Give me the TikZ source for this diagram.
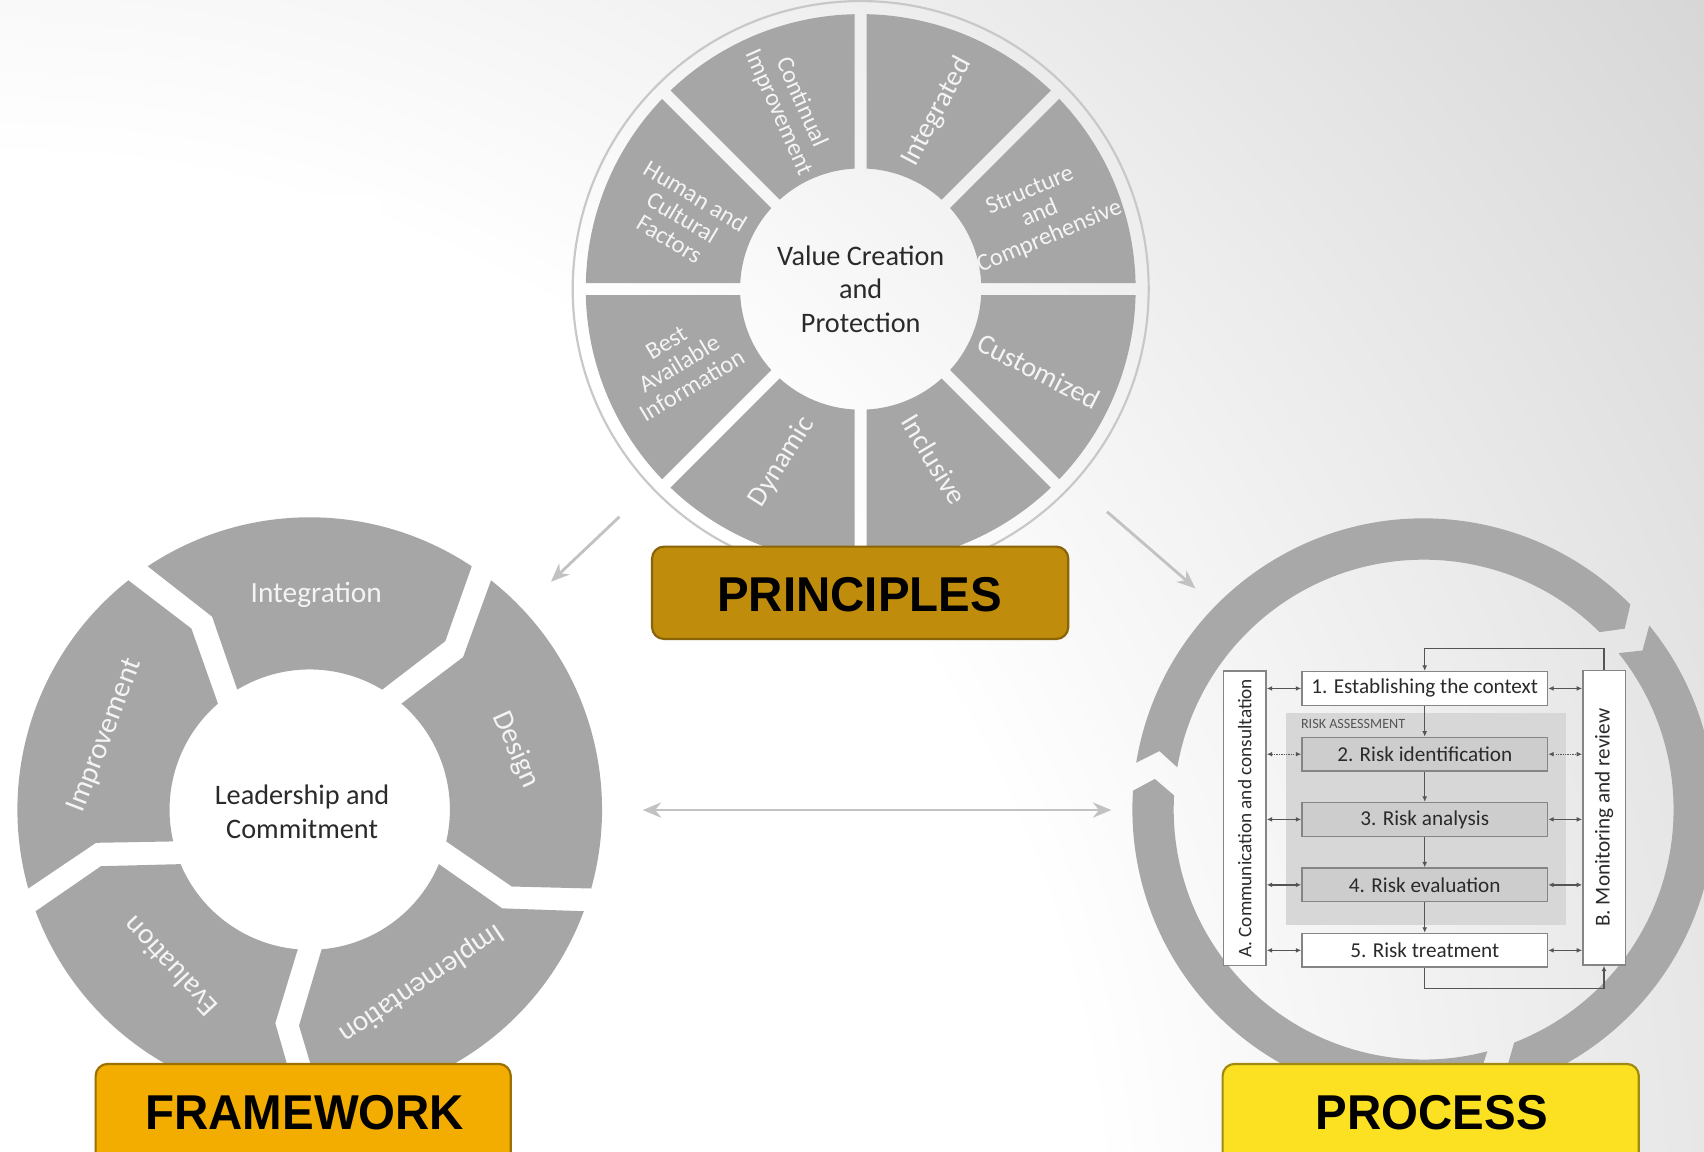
\documentclass[tikz,border=0pt]{standalone}
\usepackage{fontspec}
\setmainfont{Carlito}
\newfontfamily\lblfont{Liberation Sans}
\usetikzlibrary{arrows.meta}
\definecolor{bgdark}{HTML}{CCCCCC}
\definecolor{seggray}{HTML}{A6A6A6}
\definecolor{ringfill}{HTML}{A8A8A8}
\definecolor{ringgray}{HTML}{C8C8C8}
\definecolor{arrgray}{HTML}{C2C2C2}
\definecolor{princfill}{HTML}{BF8C0C}
\definecolor{princline}{HTML}{8A6408}
\definecolor{framefill}{HTML}{F2AD00}
\definecolor{frameline}{HTML}{9A7000}
\definecolor{procfill}{HTML}{FCE022}
\definecolor{procline}{HTML}{A08A10}
\definecolor{txtdark}{HTML}{2A2A2A}
\definecolor{seglabel}{HTML}{F4F4F4}
\definecolor{boxline}{HTML}{858585}
\definecolor{conngray}{HTML}{555555}
\definecolor{rafill}{HTML}{D7D7D7}
\definecolor{stepfill}{HTML}{CDCDCD}
\pgfdeclareradialshading{bgshade}{\pgfpoint{0bp}{0bp}}{color(0bp)=(white); color(11.5bp)=(white); color(25bp)=(bgdark); color(50bp)=(bgdark)}
% chevron ring segment: #1 ccw-start angle, #2 cw-end angle, #3 inner r, #4 outer r, #5 half gap, #6 chevron shift, #7 fill
\newcommand\chseg[7]{%
  \pgfmathsetmacro\chRm{(#3+#4)/2}%
  \pgfmathsetmacro\chAo{#1-deg(#5/#4)}%
  \pgfmathsetmacro\chBo{#2+deg(#5/#4)}%
  \pgfmathsetmacro\chBm{#2-#6+deg(#5/\chRm)}%
  \pgfmathsetmacro\chBi{#2+deg(#5/#3)}%
  \pgfmathsetmacro\chAi{#1-deg(#5/#3)}%
  \pgfmathsetmacro\chAm{#1-#6-deg(#5/\chRm)}%
  \fill[#7] (\chAo:#4) arc[start angle=\chAo, end angle=\chBo, radius=#4] -- (\chBm:\chRm) -- (\chBi:#3) arc[start angle=\chBi, end angle=\chAi, radius=#3] -- (\chAm:\chRm) -- cycle;%
}
\begin{document}
\begin{tikzpicture}[x=1pt,y=1pt,
  plbl/.style={text=seglabel, align=center, inner sep=0pt, font=\fontsize{26}{31}\selectfont},
  plblm/.style={text=seglabel, align=center, inner sep=0pt, font=\fontsize{22.5}{23}\selectfont},
  flbl/.style={text=seglabel, inner sep=0pt, font=\fontsize{27}{32}\selectfont},
  ctr/.style={text=txtdark, align=center, inner sep=0pt},
  bigarrow/.style={draw=arrgray, line width=2.6pt},
  bigone/.style={bigarrow, -{Stealth[length=17pt,width=14pt]}},
  bigtwo/.style={bigarrow, {Stealth[length=17pt,width=14pt]}-{Stealth[length=17pt,width=14pt]}},
  lblbox/.style={rounded corners=11pt, line width=2pt, inner sep=0pt},
  lbltext/.style={inner sep=0pt, xscale=0.97, font=\lblfont\bfseries\fontsize{45}{54}\selectfont, text=black},
  stepbox/.style={draw=boxline, line width=1.3pt, minimum width=226pt, minimum height=31pt, inner sep=0pt, text=txtdark, font=\fontsize{19.5}{23}\selectfont},
  sidebox/.style={draw=boxline, fill=white, line width=1.3pt, minimum width=39pt, minimum height=271pt, inner sep=0pt},
  sidetxt/.style={rotate=90, inner sep=0pt, text=txtdark},
  conn/.style={draw=conngray, line width=1.2pt},
  conna/.style={conn, -{Latex[length=5pt,width=4.5pt]}},
  connb/.style={conn, {Latex[length=5pt,width=4.5pt]}-{Latex[length=5pt,width=4.5pt]}}
]
\useasboundingbox (0,0) rectangle (1568,1060);
% background
\begin{scope}
  \clip (0,0) rectangle (1568,1060);
  \fill[white] (0,0) rectangle (1568,1060);
  \shade[shading=bgshade] (0,-100) circle (2200);
  \fill[white] (0,540) rectangle (350,880);
\end{scope}

% ---------------- PRINCIPLES wheel ----------------
\draw[ringgray, line width=2pt] (792,794) circle (265);
\begin{scope}[shift={(792,794)}]
  \foreach \k in {0,...,7}{%
    \pgfmathsetmacro\ka{45*(\k+1)}%
    \pgfmathsetmacro\kb{45*\k}%
    \chseg{\ka}{\kb}{111}{253}{5.5}{0}{seggray}%
  }
\end{scope}
\node[ctr, font=\fontsize{26}{31}\selectfont] (vcp) at (792,794) {Value Creation\\and\\Protection};
\node[plbl, rotate=62] (pInt) at (862,957) {Integrated};
\node[plblm, rotate=23] (pStr) at (957,863) {Structure\\and\\Comprehensive};
\node[plbl, rotate=-27] (pCus) at (956,718.5) {Customized};
\node[plbl, rotate=-59] (pInc) at (859.5,637.2) {Inclusive};
\node[plbl, rotate=58] (pDyn) at (719.6,635) {Dynamic};
\node[plblm, rotate=31] (pBest) at (625,725) {Best\\Available\\Information};
\node[plblm, rotate=-31] (pHum) at (628,860) {Human and\\Cultural\\Factors};
\node[plblm, rotate=-66] (pCon) at (727,961) {Continual\\Improvement};

% ---------------- FRAMEWORK wheel ----------------
\begin{scope}[shift={(285,315)}]
  \chseg{126}{54}{129}{269}{11}{6}{seggray}
  \chseg{54}{-18}{129}{269}{11}{6}{seggray}
  \chseg{-18}{-90}{129}{269}{11}{6}{seggray}
  \chseg{-90}{-162}{129}{269}{11}{6}{seggray}
  \chseg{198}{126}{129}{269}{11}{6}{seggray}
\end{scope}
\node[ctr, font=\fontsize{26}{32}\selectfont] (lc) at (278,313) {Leadership and\\Commitment};
\node[flbl] (fInt) at (291,513) {Integration};
\node[flbl, rotate=-66] (fDes) at (474.7,370) {Design};
\node[flbl, rotate=-146] (fImp) at (387.5,155) {Implementation};
\node[flbl, rotate=133] (fEva) at (156.5,170.4) {Evaluation};
\node[flbl, rotate=69] (fImpr) at (97,383) {Improvement};

% ---------------- PROCESS ring ----------------
\begin{scope}[shift={(1310,315)}]
  \chseg{173.5}{42}{230}{268}{13}{3}{ringfill}
  \chseg{42}{-72}{230}{268}{13}{3}{ringfill}
  \chseg{288}{173.5}{230}{268}{13}{3}{ringfill}
\end{scope}
\node[fill=rafill, minimum width=258pt, minimum height=195pt, inner sep=0pt] (ra) at (1312,306.5) {};
\node[font=\fontsize{13}{15}\selectfont, text=conngray, anchor=west, inner sep=0pt] (ratxt) at (1197,393.5) {RISK ASSESSMENT};
\node[stepbox, fill=white] (s1) at (1311,426.5) {1. Establishing the context};
\node[stepbox, fill=stepfill] (s2) at (1311,366) {2. Risk identification};
\node[stepbox, fill=stepfill] (s3) at (1311,306) {3. Risk analysis};
\node[stepbox, fill=stepfill] (s4) at (1311,245.75) {4. Risk evaluation};
\node[stepbox, fill=white] (s5) at (1311,185.5) {5. Risk treatment};
\node[sidebox] (A) at (1145.5,307) {};
\node[sidebox] (B) at (1476,307.5) {};
\node[sidetxt, font=\fontsize{17.7}{20}\selectfont] (Atxt) at (A.center) {A. Communication and consultation};
\node[sidetxt, font=\fontsize{19.5}{22}\selectfont] (Btxt) at (B.center) {B. Monitoring and review};
\draw[conna] (s1) -- (s2);
\draw[conna] (s2) -- (s3);
\draw[conna] (s3) -- (s4);
\draw[conna] (s4) -- (s5);
\coordinate (tl) at (1311,463.4);
\coordinate (bl) at (1311,150.5);
\draw[conna] (B.north) |- (tl) -- (s1.north);
\draw[conna] (s5.south) -- (bl) -| (B.south);
\foreach \s in {s1,s3,s4,s5}{%
  \draw[connb] (A.east |- \s) -- (\s.west);
  \draw[connb] (\s.east) -- (B.west |- \s);
}
\draw[connb, densely dotted] (A.east |- s2) -- (s2.west);
\draw[connb, densely dotted] (s2.east) -- (B.west |- s2);

% ---------------- connecting arrows ----------------
\coordinate (aL1) at (570,584.5);
\coordinate (aL2) at (507,524.7);
\coordinate (aR1) at (1018.7,589.1);
\coordinate (aR2) at (1100,518.6);
\coordinate (aH1) at (591.4,314.6);
\coordinate (aH2) at (1022.7,314.6);
\draw[bigone] (aL1) -- (aL2);
\draw[bigone] (aR1) -- (aR2);
\draw[bigtwo] (aH1) -- (aH2);

% ---------------- label boxes ----------------
\node[lblbox, fill=princfill, draw=princline, minimum width=383pt, minimum height=85pt] (prbox) at (791.5,514.5) {};
\node[lbltext] (prtxt) at (791,513.25) {PRINCIPLES};
\node[lblbox, fill=framefill, draw=frameline, minimum width=382pt, minimum height=110pt] (fwbox) at (279,26) {};
\node[lbltext] (fwtxt) at (280.5,36.5) {FRAMEWORK};
\node[lblbox, fill=procfill, draw=procline, minimum width=383pt, minimum height=110pt] (pcbox) at (1316.5,26) {};
\node[lbltext] (pctxt) at (1317.5,36.5) {PROCESS};
\end{tikzpicture}
\end{document}
